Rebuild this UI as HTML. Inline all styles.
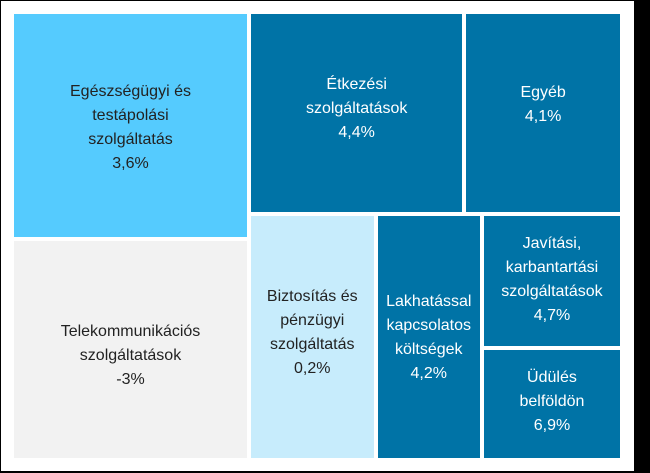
<!DOCTYPE html>
<html><head><meta charset="utf-8"><style>
body{margin:0;background:#fff;}
#wrap{position:relative;width:650px;height:473px;background:#000;overflow:hidden;}
#plot{position:absolute;left:1px;top:1px;width:633px;height:470px;background:#fff;}
.t{position:absolute;display:flex;align-items:flex-start;justify-content:center;text-align:center;font-family:"Liberation Sans",sans-serif;font-size:16px;line-height:24px;box-sizing:border-box;}
</style></head><body>
<div id="wrap"><div id="plot"></div></div>
<script>
const labels=["Egészségügyi és<br>testápolási<br>szolgáltatás","Telekommunikációs<br>szolgáltatások","Étkezési<br>szolgáltatások","Egyéb","Biztosítás és<br>pénzügyi<br>szolgáltatás","Lakhatással<br>kapcsolatos<br>költségek","Javítási,<br>karbantartási<br>szolgáltatások","Üdülés<br>belföldön"];
const values=["3,6%","-3%","4,4%","4,1%","0,2%","4,2%","4,7%","6,9%"];
const weights=[52.0,50.8,42.2,30.9,30.1,25.3,18.1,15.2];
const colors=["#55CBFE","#F2F2F2","#0073A6","#0073A6","#C7ECFC","#0073A6","#0073A6","#0073A6"];
const textColors=["#222","#222","#fff","#fff","#222","#fff","#fff","#fff"];
const names=["tile-egeszseg","tile-telekom","tile-etkezes","tile-egyeb","tile-biztositas","tile-lakhatas","tile-javitas","tile-udules"];
const X0=11,Y0=11,W=610,H=448,G=2;
const sum=a=>a.reduce((s,v)=>s+v,0);
const total=sum(weights);
const rects=[];
const lw=W*(weights[0]+weights[1])/total;
const h0=H*weights[0]/(weights[0]+weights[1]);
rects[0]=[X0,Y0,lw,h0];rects[1]=[X0,Y0+h0,lw,H-h0];
const rx=X0+lw,rw=W-lw,rest=total-weights[0]-weights[1];
const th=H*(weights[2]+weights[3])/rest;
const w2=rw*weights[2]/(weights[2]+weights[3]);
rects[2]=[rx,Y0,w2,th];rects[3]=[rx+w2,Y0,rw-w2,th];
const bt=sum(weights.slice(4));const by=Y0+th,bh=H-th;
const w4=rw*weights[4]/bt,w5=rw*weights[5]/bt;
rects[4]=[rx,by,w4,bh];rects[5]=[rx+w4,by,w5,bh];
const cx=rx+w4+w5,cw=rw-w4-w5;
const h6=bh*weights[6]/(weights[6]+weights[7]);
rects[6]=[cx,by,cw,h6];rects[7]=[cx,by+h6,cw,bh-h6];
const plot=document.getElementById('plot');
const pads=[0.29,0.355,0.29,0.33,0.28,0.3,0.12,0.145];
rects.forEach((r,i)=>{
 const d=document.createElement('div');
 d.className='t';
 
 
 d.style.left=(r[0]+G)+'px';d.style.top=(r[1]+G)+'px';
 d.style.width=(r[2]-2*G)+'px';d.style.height=(r[3]-2*G)+'px';
 d.style.background=colors[i];d.style.color=textColors[i];
 d.style.paddingTop=Math.round(r[3]*pads[i])+'px';
 d.innerHTML='<span>'+labels[i]+'<br>'+values[i]+'</span>';
 plot.appendChild(d);
});
</script>
</body></html>
